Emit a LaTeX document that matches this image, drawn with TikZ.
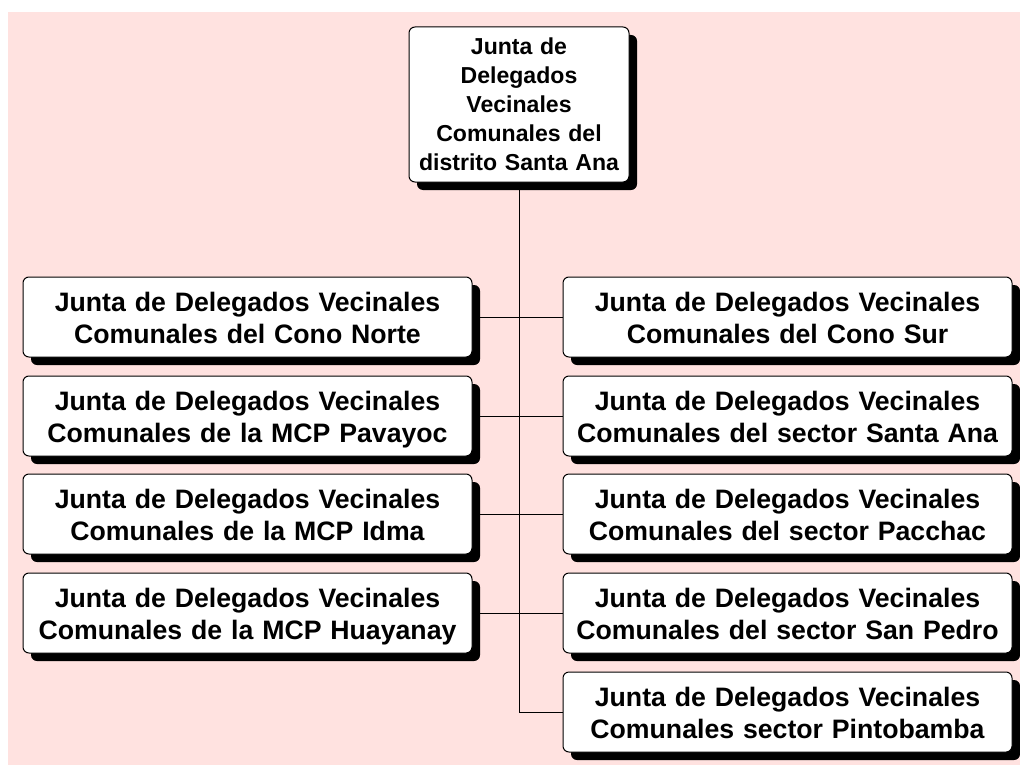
\documentclass[tikz,border=0pt]{standalone}
\usepackage{fontspec}
\setmainfont{Liberation Sans}
\usetikzlibrary{shadows}
\definecolor{bgpink}{RGB}{255,226,224}
\begin{document}
\begin{tikzpicture}[x=0.75pt,y=-0.75pt,
 orgbox/.style={draw=black, line width=0.75pt, fill=white, rounded corners=4.5pt, align=center,
   general shadow={fill=black, shadow xshift=6pt, shadow yshift=-6pt}, inner ysep=0pt},
 subbox/.style={orgbox, text width=320pt, inner xsep=8.375pt, minimum height=60pt,
   font=\fontsize{20pt}{24pt}\selectfont\bfseries,
   execute at begin node={\rule{0pt}{19.8pt}}, execute at end node={\rule[-4.2pt]{0pt}{4.2pt}}},
 topbox/.style={orgbox, text width=155pt, inner xsep=5pt, minimum height=116.25pt,
   font=\fontsize{17.3pt}{21.75pt}\selectfont\bfseries,
   execute at begin node={\rule{0pt}{16.7pt}}, execute at end node={\rule[-5pt]{0pt}{5pt}}},
 link/.style={draw=black, line width=0.75pt}]
\useasboundingbox (0,0) rectangle (1020,767);
\fill[bgpink] (8,12) rectangle (1020,765);

\node[topbox] (top) at (519,104.5) {Junta de\\Delegados\\Vecinales\\Comunales del\\distrito Santa Ana};

\node[subbox] (l1) at (247.5,317) {Junta de Delegados Vecinales\\Comunales del Cono Norte};
\node[subbox] (l2) at (247.5,416) {Junta de Delegados Vecinales\\Comunales de la MCP Pavayoc};
\node[subbox] (l3) at (247.5,514) {Junta de Delegados Vecinales\\Comunales de la MCP Idma};
\node[subbox] (l4) at (247.5,613) {Junta de Delegados Vecinales\\Comunales de la MCP Huayanay};

\node[subbox] (r1) at (787.5,317) {Junta de Delegados Vecinales\\Comunales del Cono Sur};
\node[subbox] (r2) at (787.5,416) {Junta de Delegados Vecinales\\Comunales del sector Santa Ana};
\node[subbox] (r3) at (787.5,514) {Junta de Delegados Vecinales\\Comunales del sector Pacchac};
\node[subbox] (r4) at (787.5,613) {Junta de Delegados Vecinales\\Comunales del sector San Pedro};
\node[subbox] (r5) at (787.5,712) {Junta de Delegados Vecinales\\Comunales sector Pintobamba};

\draw[link] (top.south) -- (top.south |- r5.west) -- (r5.west);
\foreach \n in {l1,l2,l3,l4}{
  \draw[link] (\n.east) -- (\n.east -| top.south);
}
\foreach \n in {r1,r2,r3,r4}{
  \draw[link] (\n.west) -- (\n.west -| top.south);
}
\end{tikzpicture}
\end{document}
